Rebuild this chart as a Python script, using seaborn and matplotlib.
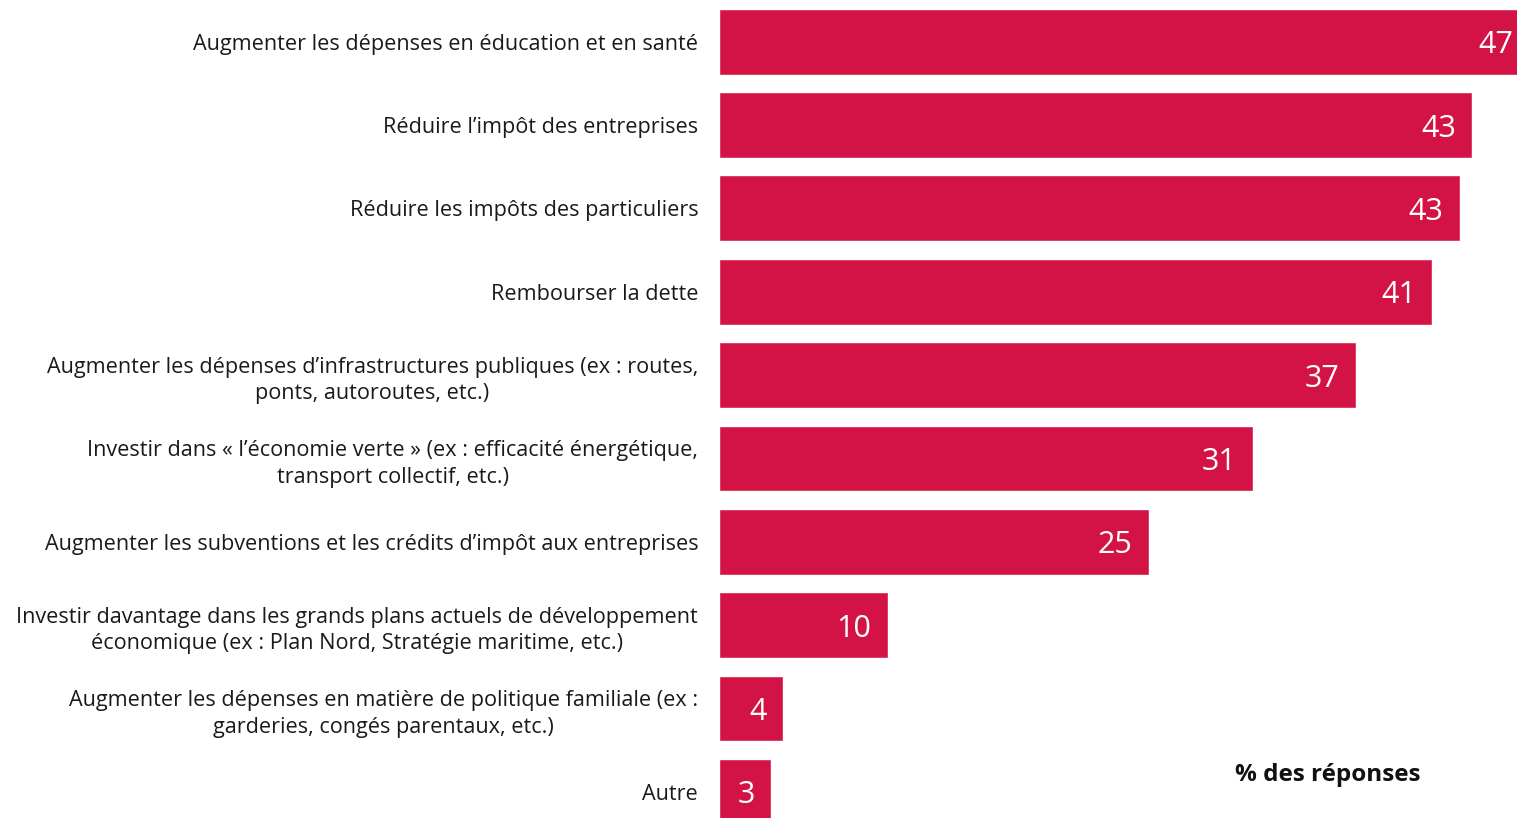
import matplotlib
matplotlib.use("Agg")
import matplotlib.pyplot as plt
import seaborn as sns
import pandas as pd

# data
categories = [
    "Augmenter les dépenses en éducation et en santé",
    "Réduire l’impôt des entreprises",
    "Réduire les impôts des particuliers",
    "Rembourser la dette",
    "Augmenter les dépenses d’infrastructures publiques (ex : routes,\nponts, autoroutes, etc.)",
    "Investir dans « l’économie verte » (ex : efficacité énergétique,\ntransport collectif, etc.)",
    "Augmenter les subventions et les crédits d’impôt aux entreprises",
    "Investir davantage dans les grands plans actuels de développement\néconomique (ex : Plan Nord, Stratégie maritime, etc.)",
    "Augmenter les dépenses en matière de politique familiale (ex :\ngarderies, congés parentaux, etc.)",
    "Autre",
]
values = [46.6, 43.3, 42.6, 41.0, 36.6, 30.7, 24.7, 9.7, 3.7, 3.0]
value_labels = ["47", "43", "43", "41", "37", "31", "25", "10", "4", "3"]

df = pd.DataFrame({"cat": categories, "val": values})

sns.set_style("white")
plt.rcParams["font.family"] = ["Open Sans", "DejaVu Sans"]

bar_color = "#D31345"

fig = plt.figure(figsize=(15.17, 8.18), dpi=100)
ax = fig.add_axes([719 / 1517, 1 - 833.6 / 818, 1 - 719 / 1517, 833.6 / 818])

sns.barplot(data=df, x="val", y="cat", color=bar_color, width=0.79,
            saturation=1, ax=ax)

ax.set_xlim(0, 45.86)
ax.set_ylim(9.5, -0.5)
ax.set_xlabel("")
ax.set_ylabel("")
ax.set_xticks([])
sns.despine(ax=ax, left=True, bottom=True)

ax.tick_params(axis="y", length=0, pad=15)
for lab in ax.get_yticklabels():
    lab.set_fontsize(15.6)
    lab.set_color("#1a1a1a")
    lab.set_multialignment("center")
    lab.set_linespacing(1.35)

# value labels inside the bars
for i, (v, t) in enumerate(zip(values, value_labels)):
    ax.text(v - 0.95, i, t, ha="right", va="center_baseline", color="white",
            fontsize=22)

fig.text(1328 / 1517, 1 - 775 / 818, "% des réponses", ha="center", va="center",
         fontsize=17.5, fontweight="bold", color="#111111")

fig.savefig("out.png", dpi=100)
